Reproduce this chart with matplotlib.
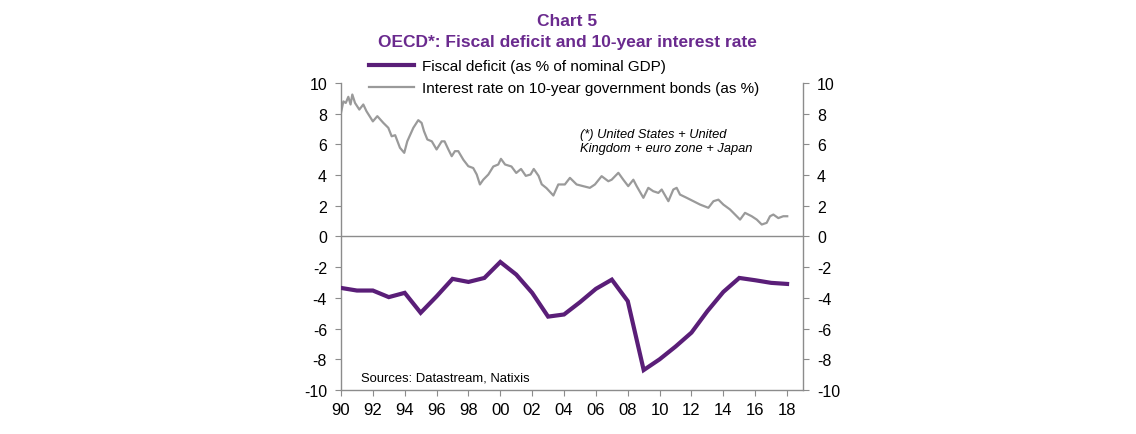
import matplotlib
matplotlib.use("Agg")
import matplotlib.pyplot as plt
import numpy as np

plt.rcParams['font.family'] = ['Liberation Sans', 'DejaVu Sans']

# Fiscal deficit (as % of nominal GDP), annual 1990-2018
fiscal_years = list(range(1990, 2019))
fiscal_values = [-3.35, -3.52, -3.52, -3.95, -3.67, -4.97, -3.9, -2.76, -2.96, -2.7,
                 -1.66, -2.48, -3.67, -5.22, -5.08, -4.28, -3.41, -2.81, -4.21, -8.7,
                 -8.0, -7.17, -6.26, -4.86, -3.61, -2.7, -2.85, -3.02, -3.09]

# Interest rate on 10-year government bonds (as %)
rate_dates = [1990.0, 1990.15, 1990.3, 1990.46, 1990.6, 1990.71, 1990.88, 1991.15, 1991.4, 1991.6,
              1992.0, 1992.28, 1992.66, 1992.97, 1993.18, 1993.4, 1993.7, 1993.97, 1994.16, 1994.54,
              1994.85, 1995.06, 1995.21, 1995.42, 1995.7, 1996.0, 1996.32, 1996.5, 1996.74, 1996.95,
              1997.15, 1997.36, 1997.68, 1997.99, 1998.3, 1998.52, 1998.72, 1998.93, 1999.25, 1999.56,
              1999.87, 2000.04, 2000.3, 2000.7, 2001.0, 2001.3, 2001.6, 2001.9, 2002.1, 2002.4,
              2002.6, 2002.9, 2003.33, 2003.64, 2004.05, 2004.37, 2004.79, 2005.2, 2005.62, 2005.94,
              2006.36, 2006.78, 2006.99, 2007.41, 2007.72, 2008.03, 2008.35, 2008.56, 2008.98, 2009.29,
              2009.6, 2009.92, 2010.13, 2010.55, 2010.86, 2011.07, 2011.28, 2011.7, 2012.12, 2012.54,
              2013.06, 2013.38, 2013.69, 2014.0, 2014.42, 2014.84, 2015.05, 2015.36, 2015.78, 2016.1,
              2016.41, 2016.72, 2016.93, 2017.14, 2017.45, 2017.76, 2018.01]
rate_values = [8.06, 8.8, 8.7, 9.1, 8.6, 9.25, 8.7, 8.27, 8.6, 8.16,
               7.5, 7.84, 7.4, 7.08, 6.53, 6.6, 5.78, 5.45, 6.2, 7.08,
               7.58, 7.4, 6.86, 6.32, 6.2, 5.67, 6.2, 6.2, 5.67, 5.23,
               5.56, 5.56, 5.0, 4.58, 4.46, 4.04, 3.39, 3.7, 4.04, 4.56,
               4.69, 5.06, 4.69, 4.56, 4.14, 4.4, 3.95, 4.04, 4.4, 3.95,
               3.4, 3.15, 2.67, 3.39, 3.39, 3.82, 3.39, 3.28, 3.17, 3.39,
               3.93, 3.6, 3.7, 4.15, 3.7, 3.28, 3.7, 3.28, 2.52, 3.17,
               2.95, 2.84, 3.06, 2.3, 3.06, 3.17, 2.73, 2.52, 2.3, 2.08,
               1.87, 2.3, 2.4, 2.08, 1.76, 1.32, 1.1, 1.54, 1.32, 1.1,
               0.78, 0.89, 1.32, 1.43, 1.2, 1.32, 1.32]

xtick_years = list(range(1990, 2019, 2))
xtick_labels = [f"{y % 100:02d}" for y in xtick_years]
ytick_values = list(range(-10, 11, 2))

purple = '#5a1e78'
title_purple = '#6a2a8e'
grey_line = '#9a9a9a'
spine_grey = '#8c8c8c'

fig = plt.figure(figsize=(11.36, 4.35), dpi=100)
ax = fig.add_axes([341/1136, 1-391/435, (803-341)/1136, (391-84)/435])

l1, = ax.plot(fiscal_years, fiscal_values, color=purple, lw=3.0, solid_joinstyle='miter',
              label='Fiscal deficit (as % of nominal GDP)', zorder=3)
l2, = ax.plot(rate_dates, rate_values, color=grey_line, lw=1.6,
              label='Interest rate on 10-year government bonds (as %)', zorder=2)
ax.axhline(0, color=spine_grey, lw=1.0, zorder=1)

ax.set_xlim(1990, 2019)
ax.set_ylim(-10, 10)
ax.set_xticks(xtick_years)
ax.set_xticklabels(xtick_labels, fontsize=12)
ax.set_yticks(ytick_values)
ax.set_yticklabels([str(v) for v in ytick_values], fontsize=11.5)
ax.tick_params(axis='y', which='both', direction='out', length=4, color=spine_grey,
               left=True, right=True, labelleft=True, labelright=True, pad=6)
ax.tick_params(axis='x', direction='out', length=4, color=spine_grey, pad=5)

ax.spines['top'].set_visible(False)
for s in ['left', 'right', 'bottom']:
    ax.spines[s].set_color(spine_grey)
    ax.spines[s].set_linewidth(1.0)

fig.text(567/1136, 1-21/435, 'Chart 5', ha='center', va='center', fontsize=12.5,
         fontweight='bold', color=title_purple)
fig.text(567/1136, 1-42/435, 'OECD*: Fiscal deficit and 10-year interest rate', ha='center',
         va='center', fontsize=12.5, fontweight='bold', color=title_purple)

fig.legend(handles=[l1, l2], loc='upper left', bbox_to_anchor=(369/1136, 1-60.5/435),
           frameon=False, fontsize=11, handlelength=2.95, handletextpad=0.52,
           labelspacing=0.52, borderpad=0, borderaxespad=0)

fig.text(580/1136, 1-142/435, '(*) United States + United\nKingdom + euro zone + Japan',
         ha='left', va='center', fontsize=9.3, style='italic', linespacing=1.2)
fig.text(361/1136, 1-379/435, 'Sources: Datastream, Natixis', ha='left', va='center',
         fontsize=9.35)

fig.savefig('out.png', dpi=100)
